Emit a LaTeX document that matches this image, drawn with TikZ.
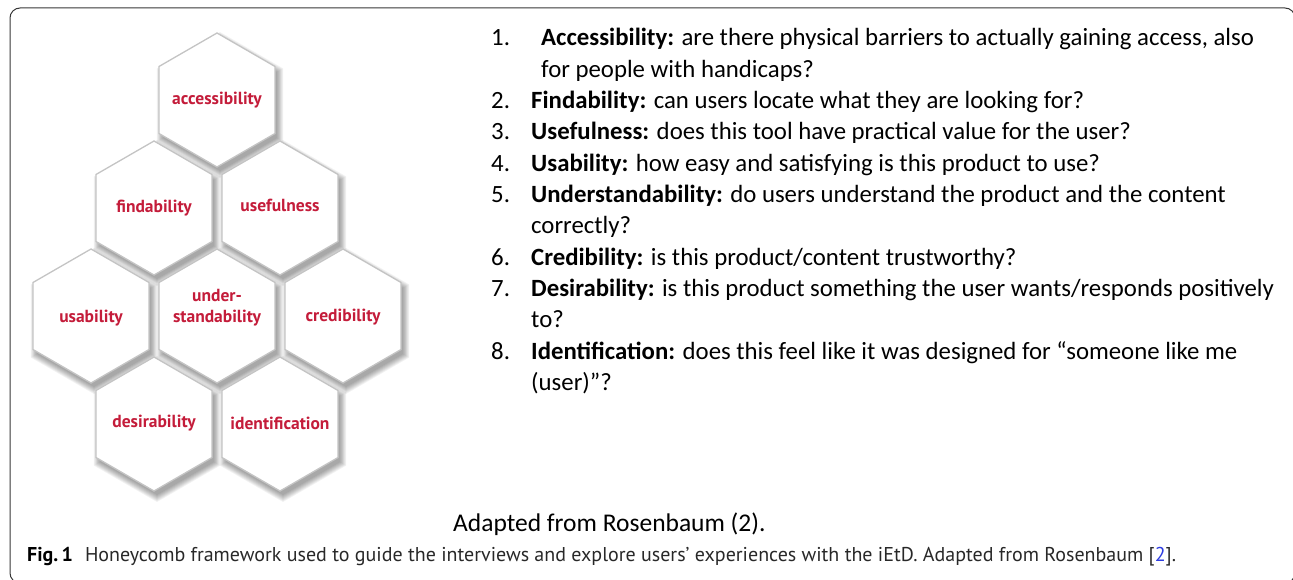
\documentclass[tikz,border=0pt]{standalone}
\usepackage{fontspec}
\setmainfont{Carlito}
\newfontfamily\hexfont{PT Sans}
\newfontfamily\capfont{PT Sans}
\definecolor{hexred}{RGB}{196,28,58}
\definecolor{hexline}{RGB}{196,196,196}
\definecolor{frameline}{RGB}{55,55,55}
\definecolor{captext}{RGB}{40,40,40}
\definecolor{citeblue}{RGB}{45,60,225}

% radius of one honeycomb cell (centre to corner)
\newcommand\hexR{67}
% outline of a pointy-topped hexagon around the current shift
\newcommand\hexoutline[1]{(30:#1) -- (90:#1) -- (150:#1) -- (210:#1) -- (270:#1) -- (330:#1) -- cycle}

\tikzset{
  hexlabel/.style={font=\hexfont\bfseries\fontsize{17.5}{21}\selectfont, text=hexred,
                   align=center, inner sep=0pt},
  hexface/.style={fill=white, draw=hexline, line width=1.3pt, line join=miter},
  hexshade/.style={fill=black, fill opacity=0.05, draw=none},
  numlabel/.style={anchor=base west, inner sep=0pt, font=\fontsize{24.8}{28}\selectfont},
  itemlabel/.style={anchor=base west, inner sep=0pt, font=\fontsize{24.8}{28}\selectfont},
  srclabel/.style={anchor=base west, inner sep=0pt, font=\fontsize{25.5}{28}\selectfont},
  caplabel/.style={anchor=base west, inner sep=0pt, font=\capfont\fontsize{20}{23}\selectfont, text=captext},
}

\begin{document}
\begin{tikzpicture}[x=1pt,y=-1pt]
\useasboundingbox (0,0) rectangle (1293,580);

% outer frame
\draw[frameline, line width=1pt, rounded corners=10pt] (10,8) rectangle (1295,583);

% soft shadows below every cell
\foreach \cx/\cy in {217/100, 154/208, 280/208, 91/316, 217/316, 343/316, 154/424, 280/424}{
  \foreach \k in {1,...,8}{
    \path[hexshade, shift={(\cx+3,\cy+5)}] \hexoutline{\hexR+\k-2};
  }
}

% the cells and their labels
\foreach \nm/\cx/\cy/\ty/\txt in {
  acc/217/100/100/accessibility,
  find/154/208/208/findability,
  use/280/208/205/usefulness,
  usab/91/316/318/usability,
  under/217/316/308/{under-\\standability},
  cred/343/316/317/credibility,
  des/154/424/423/desirability,
  ident/280/424/423/identification}{
  \path[hexface, shift={(\cx,\cy)}] \hexoutline{\hexR};
  \node[hexlabel] (\nm) at (\cx,\ty) {\txt};
}

% numbered list
\def\bl#1{46+31.3*#1}
\node[numlabel] (n1) at (491,{\bl{0}}) {1.};
\node[itemlabel] (t1) at (541,{\bl{0}}) {\textbf{Accessibility:} are there physical barriers to actually gaining access, also};
\node[itemlabel] (t1b) at (541,{\bl{1}}) {for people with handicaps?};
\node[numlabel] (n2) at (491,{\bl{2}}) {2.};
\node[itemlabel] (t2) at (531,{\bl{2}}) {\textbf{Findability:} can users locate what they are looking for?};
\node[numlabel] (n3) at (491,{\bl{3}}) {3.};
\node[itemlabel] (t3) at (531,{\bl{3}}) {\textbf{Usefulness:} does this tool have practical value for the user?};
\node[numlabel] (n4) at (491,{\bl{4}}) {4.};
\node[itemlabel] (t4) at (531,{\bl{4}}) {\textbf{Usability:} how easy and satisfying is this product to use?};
\node[numlabel] (n5) at (491,{\bl{5}}) {5.};
\node[itemlabel] (t5) at (531,{\bl{5}}) {\textbf{Understandability:} do users understand the product and the content};
\node[itemlabel] (t5b) at (531,{\bl{6}}) {correctly?};
\node[numlabel] (n6) at (491,{\bl{7}}) {6.};
\node[itemlabel] (t6) at (531,{\bl{7}}) {\textbf{Credibility:} is this product/content trustworthy?};
\node[numlabel] (n7) at (491,{\bl{8}}) {7.};
\node[itemlabel] (t7) at (531,{\bl{8}}) {\textbf{Desirability:} is this product something the user wants/responds positively};
\node[itemlabel] (t7b) at (531,{\bl{9}}) {to?};
\node[numlabel] (n8) at (491,{\bl{10}}) {8.};
\node[itemlabel] (t8) at (531,{\bl{10}}) {\textbf{Identification:} does this feel like it was designed for “someone like me};
\node[itemlabel] (t8b) at (531,{\bl{11}}) {(user)”?};

% source line and figure caption
\node[srclabel] (src) at (453,531) {Adapted from Rosenbaum (2).};
\node[caplabel] (cap) at (27,561) {{\color{black}\bfseries Fig.\,1}\hspace{0.6em}Honeycomb framework used to guide the interviews and explore users’ experiences with the iEtD. Adapted from Rosenbaum [{\color{citeblue}2}].};
\end{tikzpicture}
\end{document}
